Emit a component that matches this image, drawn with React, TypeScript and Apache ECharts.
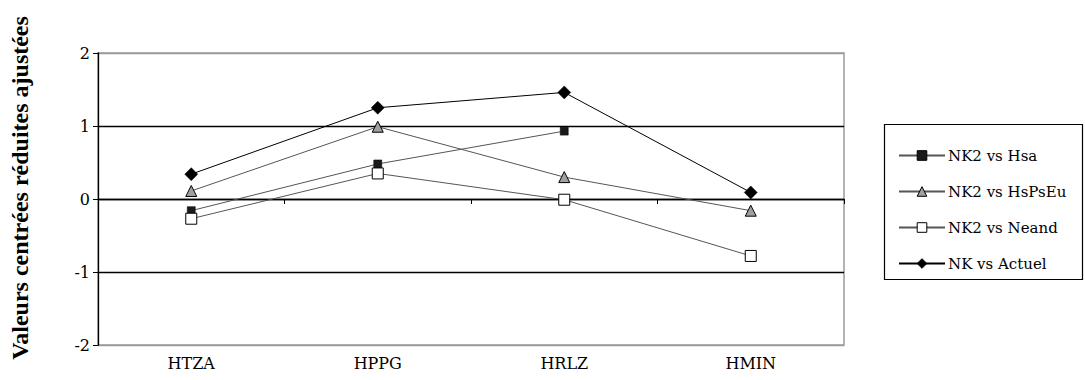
import React, { useEffect, useRef } from "react";
import * as echarts from "echarts";

const categories = ["HTZA", "HPPG", "HRLZ", "HMIN"];
const yTicks = [-2, -1, 0, 1, 2];
const hsa: (number | null)[] = [-0.16, 0.48, 0.93, null];
const hsPsEu = [0.11, 0.99, 0.3, -0.16];
const neand = [-0.27, 0.35, -0.01, -0.78];
const actuel = [0.34, 1.25, 1.46, 0.09];

const FONT = "'Liberation Serif', 'Times New Roman', serif";
const WIDE = "'DejaVu Serif', serif";

export default function App() {
  const ref = useRef<HTMLDivElement>(null);
  useEffect(() => {
    document.body.style.margin = "0";
    const chart = echarts.init(ref.current!, null, { renderer: "svg" });
    chart.setOption({
      animation: false,
      backgroundColor: "#fff",
      textStyle: { fontFamily: WIDE },
      grid: {
        left: 98,
        top: 53,
        right: 241,
        bottom: 35,
        show: true,
        borderColor: "#9a9a9a",
        borderWidth: 1.5,
        backgroundColor: "#fff",
      },
      xAxis: [
        {
          type: "category",
          data: categories,
          boundaryGap: true,
          axisLine: { onZero: true, lineStyle: { color: "#000", width: 1.3 } },
          axisTick: { show: true, length: 5, lineStyle: { color: "#000" } },
          axisLabel: { show: false },
          splitLine: { show: false },
        },
        {
          type: "category",
          data: categories,
          position: "bottom",
          boundaryGap: true,
          axisLine: { show: false, onZero: false },
          axisTick: { show: false },
          axisLabel: { color: "#000", fontSize: 16, fontFamily: WIDE, margin: 10 },
          splitLine: { show: false },
        },
      ],
      yAxis: {
        type: "value",
        min: yTicks[0],
        max: yTicks[yTicks.length - 1],
        interval: 1,
        axisLine: { show: true, lineStyle: { color: "#000", width: 1.3 } },
        axisTick: { show: true, length: 5, lineStyle: { color: "#000" } },
        axisLabel: { color: "#000", fontSize: 16, fontFamily: WIDE, margin: 8 },
        splitLine: {
          show: true,
          lineStyle: { color: ["#9a9a9a", "#000", "#000", "#000", "#9a9a9a"], width: 1.3 },
        },
      },
      legend: {
        orient: "vertical",
        left: 893,
        top: 143,
        itemWidth: 46,
        itemHeight: 12,
        itemGap: 21,
        itemStyle: { borderWidth: 1 },
        textStyle: { color: "#000", fontSize: 15, fontFamily: WIDE, padding: [0, 0, 0, -2] },
        data: ["NK2 vs Hsa", "NK2 vs HsPsEu", "NK2 vs Neand", "NK vs Actuel"],
      },
      graphic: [
        {
          type: "rect",
          shape: { x: 884.5, y: 124.5, width: 198, height: 155 },
          style: { fill: "none", stroke: "#000", lineWidth: 1.2 },
          z: -1,
        },
        {
          type: "text",
          x: 20,
          y: 188,
          rotation: Math.PI / 2,
          style: {
            text: "Valeurs centrées réduites ajustées",
            font: `bold 24px ${FONT}`,
            fill: "#000",
            align: "center",
            verticalAlign: "middle",
          },
        },
      ],
      series: [
        {
          name: "NK2 vs Hsa",
          type: "line",
          data: hsa,
          symbol: "rect",
          symbolSize: 8,
          connectNulls: false,
          lineStyle: { color: "#555", width: 1 },
          itemStyle: { color: "#1a1a1a", borderColor: "#000", borderWidth: 0.5 },
        },
        {
          name: "NK2 vs HsPsEu",
          type: "line",
          data: hsPsEu,
          symbol: "triangle",
          symbolSize: 11,
          lineStyle: { color: "#555", width: 1 },
          itemStyle: { color: "#a0a0a0", borderColor: "#000", borderWidth: 1 },
        },
        {
          name: "NK2 vs Neand",
          type: "line",
          data: neand,
          symbol: "rect",
          symbolSize: 11,
          lineStyle: { color: "#555", width: 1 },
          itemStyle: { color: "#fff", borderColor: "#000", borderWidth: 1 },
        },
        {
          name: "NK vs Actuel",
          type: "line",
          data: actuel,
          symbol: "diamond",
          symbolSize: 13,
          lineStyle: { color: "#000", width: 1 },
          itemStyle: { color: "#000", borderColor: "#000", borderWidth: 0.5 },
        },
      ],
    });
    return () => chart.dispose();
  }, []);
  return <div ref={ref} style={{ width: 1085, height: 380 }} />;
}
